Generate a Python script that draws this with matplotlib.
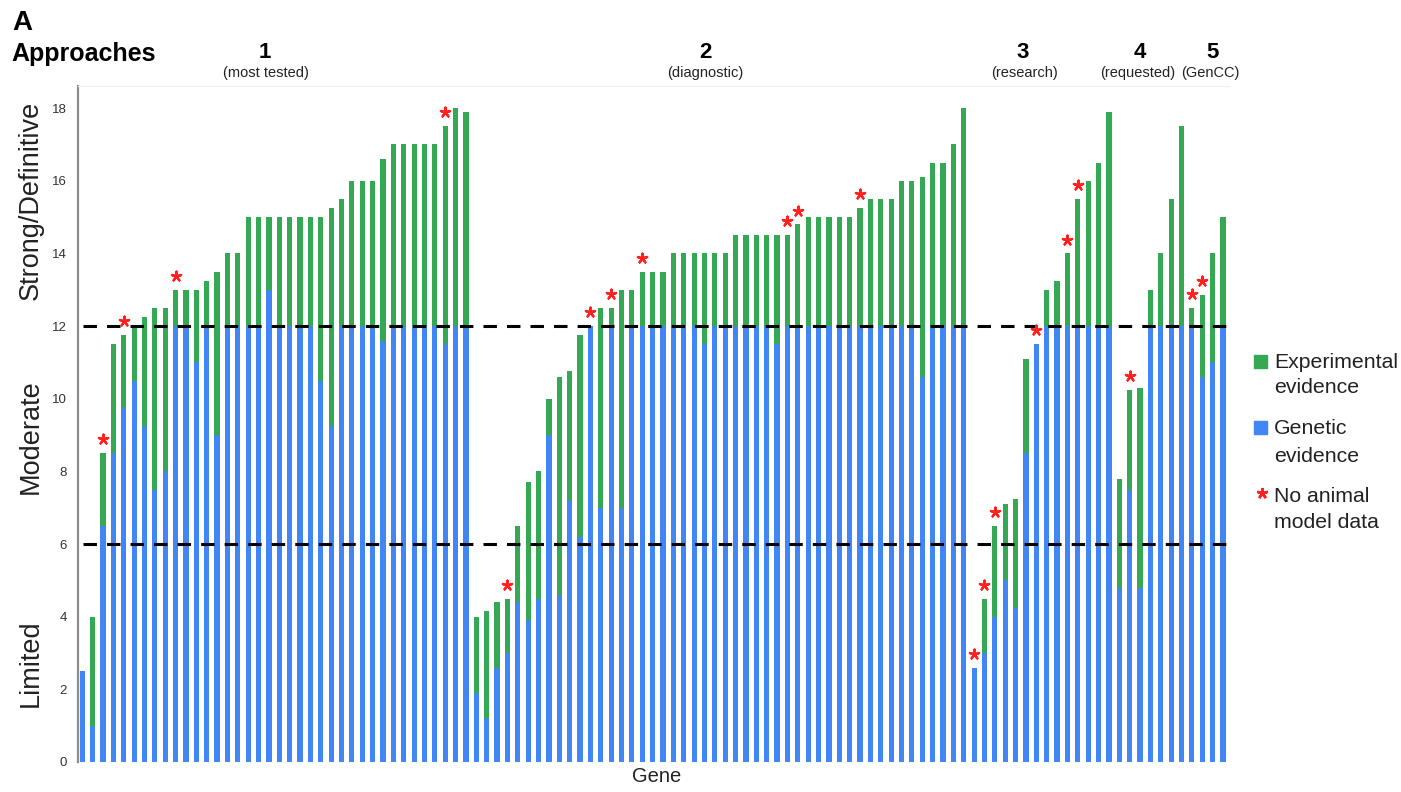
import matplotlib
matplotlib.use('Agg')
import matplotlib.pyplot as plt
import numpy as np
from matplotlib.patches import Rectangle
from matplotlib.lines import Line2D

plt.rcParams['font.family'] = ['Liberation Sans', 'DejaVu Sans']

# scores per gene, one list per approach: genetic part and total (genetic + experimental)
gen_1 = [2.5, 1, 6.5, 8.5, 9.75, 10.5, 9.25, 7.5, 8, 12, 12, 11, 12, 9, 12, 12, 12, 12, 13, 12,
         12, 12, 12, 10.5, 9.25, 12, 12, 12, 12, 11.6, 12, 12, 12, 12, 12, 11.5, 12, 12]
tot_1 = [2.5, 4, 8.5, 11.5, 11.75, 12, 12.25, 12.5, 12.5, 13, 13, 13, 13.25, 13.5, 14, 14, 15, 15, 15, 15,
         15, 15, 15, 15, 15.25, 15.5, 16, 16, 16, 16.6, 17, 17, 17, 17, 17, 17.5, 18, 17.9]
star_1 = [2, 4, 9, 35]

gen_2 = [1.9, 1.2, 2.6, 3, 4.4, 3.9, 4.5, 9, 4.6, 7.2, 6.2, 12, 7, 12, 7, 12, 12, 12, 12, 12,
         12, 12, 11.5, 12, 12, 12, 12, 12, 12, 11.5, 12, 12, 12, 12, 12, 12, 12, 12, 12, 12,
         12, 12, 12, 10.6, 12, 12, 12, 12]
tot_2 = [4, 4.15, 4.4, 4.5, 6.5, 7.7, 8, 10, 10.6, 10.75, 11.75, 12, 12.5, 12.5, 13, 13, 13.5, 13.5, 13.5, 14,
         14, 14, 14, 14, 14, 14.5, 14.5, 14.5, 14.5, 14.5, 14.5, 14.8, 15, 15, 15, 15, 15, 15.25, 15.5, 15.5,
         15.5, 16, 16, 16.1, 16.5, 16.5, 17, 18]
star_2 = [3, 11, 13, 16, 30, 31, 37]

gen_3 = [2.6, 3, 4, 5, 4.25, 8.5, 11.5, 12, 12, 12, 12, 12, 12, 12]
tot_3 = [2.6, 4.5, 6.5, 7.1, 7.25, 11.1, 11.5, 13, 13.25, 14, 15.5, 16, 16.5, 17.9]
star_3 = [0, 1, 2, 6, 9, 10]

gen_4 = [4.8, 7.5, 4.8, 12, 12, 12, 12]
tot_4 = [7.8, 10.25, 10.3, 13, 14, 15.5, 17.5]
star_4 = [1]

gen_5 = [12, 10.6, 11, 12]
tot_5 = [12.5, 12.85, 14, 15]
star_5 = [0, 1]

approaches = ['1', '2', '3', '4', '5']
subtitles = ['(most tested)', '(diagnostic)', '(research)', '(requested)', '(GenCC)']

blue = '#4285F4'
green = '#34A853'
red = '#FF2020'

genetic = np.array(gen_1 + gen_2 + gen_3 + gen_4 + gen_5)
total = np.array(tot_1 + tot_2 + tot_3 + tot_4 + tot_5)
experimental = total - genetic
x = np.arange(len(genetic))

# star indices shifted to global bar positions
stars = []
offset = 0
for g, s in zip([gen_1, gen_2, gen_3, gen_4, gen_5], [star_1, star_2, star_3, star_4, star_5]):
    stars += [offset + i for i in s]
    offset += len(g)
stars = np.array(stars)

W, H = 1401, 792
fig = plt.figure(figsize=(W / 100, H / 100), dpi=100)
ax = fig.add_axes([78 / W, (H - 762) / H, 1151 / W, (762 - 86) / H])

ax.bar(x, genetic, width=0.5, color=blue, linewidth=0)
ax.bar(x, experimental, bottom=genetic, width=0.5, color=green, linewidth=0)
ax.scatter(x[stars], total[stars] + 0.38, marker=(5, 2, 0), s=48, color=red,
           linewidths=1.7, zorder=4)

for yv in [6, 12]:
    ax.axhline(yv, xmin=0.004, xmax=0.997, color='black', lw=2.2,
               linestyle=(0, (4.4, 3.3)), zorder=3)

ax.set_xlim(-0.41, 110.58)
ax.set_ylim(0, (762 - 86) / 36.33)
ax.set_xticks([])
ax.set_yticks(np.arange(0, 19, 2))
ax.tick_params(axis='y', length=0, pad=8, labelsize=9.5, labelcolor='#333333')
for side in ['right', 'bottom']:
    ax.spines[side].set_visible(False)
ax.spines['top'].set_color('#eeeeee')
ax.spines['left'].set_color('#8c8c8c')
ax.spines['left'].set_linewidth(1.6)


def fx(px):
    return px / W


def fy(py):
    return 1 - py / H


fig.text(fx(12), fy(23), 'A', fontsize=20, fontweight='bold', va='center', ha='left')
fig.text(fx(11), fy(54), 'Approaches', fontsize=18, fontweight='bold', va='center', ha='left')

label_x = [265, 705, 1023, 1140, 1213]
sub_x = [266, 705, 1025, 1138, 1181]
sub_ha = ['center', 'center', 'center', 'center', 'left']
for lab, sub, lx, sx, ha in zip(approaches, subtitles, label_x, sub_x, sub_ha):
    fig.text(fx(lx), fy(53), lab, fontsize=16, fontweight='bold', ha='center', va='center')
    fig.text(fx(sx), fy(73), sub, fontsize=10.5, ha=ha, va='center', color='#222222')

fig.text(fx(31), fy(200), 'Strong/Definitive', rotation=90, fontsize=19.5, ha='center', va='center', color='#222222')
fig.text(fx(31), fy(437), 'Moderate', rotation=90, fontsize=19.5, ha='center', va='center', color='#222222')
fig.text(fx(31), fy(663), 'Limited', rotation=90, fontsize=19.5, ha='center', va='center', color='#222222')
fig.text(fx(657), fy(777), 'Gene', fontsize=14.5, ha='center', va='center', color='#222222')

# legend
leg_fs = 15.3
fig.add_artist(Rectangle((fx(1254), fy(368)), 13 / W, 13 / H, color=green, transform=fig.transFigure))
fig.text(fx(1274), fy(362), 'Experimental', fontsize=leg_fs, va='center', ha='left', color='#222222')
fig.text(fx(1274), fy(388), 'evidence', fontsize=leg_fs, va='center', ha='left', color='#222222')
fig.add_artist(Rectangle((fx(1254), fy(434)), 13 / W, 13 / H, color=blue, transform=fig.transFigure))
fig.text(fx(1274), fy(428), 'Genetic', fontsize=leg_fs, va='center', ha='left', color='#222222')
fig.text(fx(1274), fy(456), 'evidence', fontsize=leg_fs, va='center', ha='left', color='#222222')
fig.add_artist(Line2D([fx(1262)], [fy(493)], marker=(5, 2, 0), markersize=8, markeredgewidth=1.8,
                      color=red, transform=fig.transFigure))
fig.text(fx(1274), fy(496), 'No animal', fontsize=leg_fs, va='center', ha='left', color='#222222')
fig.text(fx(1274), fy(523), 'model data', fontsize=leg_fs, va='center', ha='left', color='#222222')

fig.savefig('out.png', dpi=100)
